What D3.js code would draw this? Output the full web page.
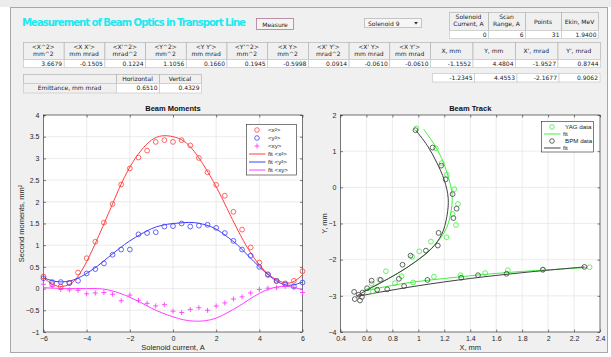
<!DOCTYPE html>
<html>
<head>
<meta charset="utf-8">
<script src="https://cdn.jsdelivr.net/npm/d3@7"></script>
<style>
  body { margin: 0; background: #fff; }
  svg { display: block; font-family: "Liberation Sans", Arial, sans-serif; }
  .ui { font-family: "DejaVu Sans", sans-serif; font-size: 6px; fill: #222; }
</style>
</head>
<body>
<svg width="611" height="357"></svg>
<script>
// ---- table data ----
const momentHeaders = [
  ["<X^2>", "mm^2"], ["<X X'>", "mm mrad"], ["<X'^2>", "mrad^2"], ["<Y^2>", "mm^2"],
  ["<Y Y'>", "mm mrad"], ["<Y'^2>", "mm^2"], ["<X Y>", "mm^2"], ["<X' Y'>", "mrad^2"],
  ["<X' Y>", "mm mrad"], ["<X Y'>", "mm mrad"], ["X, mm"], ["Y, mm"], ["X', mrad"], ["Y', mrad"]
];
const momentValues = ["3.6679", "-0.1505", "0.1224", "1.1056", "0.1660", "0.1945", "-0.5998",
  "0.0914", "-0.0610", "-0.0610", "-1.1552", "4.4804", "-1.9527", "0.8744"];
const fitCentroid = ["-1.2345", "4.4553", "-2.1677", "0.9062"];
const emitHeaders = ["", "Horizontal", "Vertical"];
const emitValues = ["Emittance, mm mrad", "0.6510", "0.4329"];
const scanHeaders = [["Solenoid", "Current, A"], ["Scan", "Range, A"], ["Points"], ["Ekin, MeV"]];
const scanValues = ["0", "6", "31", "1.9400"];

// ---- beam moments ----
const current = [-6, -5.6, -5.2, -4.8, -4.4, -4, -3.6, -3.2, -2.8, -2.4, -2, -1.6, -1.2, -0.8, -0.4, 0,
  0.4, 0.8, 1.2, 1.6, 2, 2.4, 2.8, 3.2, 3.6, 4, 4.4, 4.8, 5.2, 5.6, 6];
const x2 = [0.28, 0.1, 0.05, 0.13, 0.37, 0.7, 1.08, 1.52, 1.95, 2.4, 2.77, 3.02, 3.18, 3.38, 3.42, 3.38,
  3.42, 3.3, 3.01, 2.68, 2.39, 2.14, 1.77, 1.36, 0.95, 0.6, 0.31, 0.17, 0.12, 0.18, 0.4];
const y2 = [0.24, 0.15, 0.15, 0.13, 0.18, 0.35, 0.45, 0.58, 0.78, 0.9, 0.9, 1.25, 1.28, 1.3, 1.43, 1.44,
  1.5, 1.43, 1.45, 1.47, 1.4, 1.28, 1.1, 0.9, 0.76, 0.5, 0.33, 0.18, 0.1, 0.05, 0.14];
const xy = [0.1, 0.05, -0.02, -0.03, -0.04, -0.12, -0.1, -0.09, -0.13, -0.28, -0.15, -0.27, -0.34, -0.4, -0.37, -0.52,
  -0.55, -0.48, -0.44, -0.5, -0.4, -0.33, -0.24, -0.19, -0.1, -0.02, 0.01, 0.02, 0.05, 0.02, -0.09];

const fitCurrent = [-6, -5.5, -5, -4.5, -4, -3.5, -3, -2.5, -2, -1.5, -1, -0.5, 0, 0.5, 1, 1.5, 2, 2.5, 3, 3.5, 4, 4.5, 5, 5.5, 6];
const fitX2 = [0.25, 0.08, 0.06, 0.22, 0.62, 1.15, 1.72, 2.3, 2.8, 3.17, 3.42, 3.52, 3.5, 3.4, 3.15, 2.78, 2.35, 1.85, 1.35, 0.9, 0.55, 0.3, 0.16, 0.14, 0.32];
const fitY2 = [0.25, 0.17, 0.16, 0.22, 0.35, 0.52, 0.72, 0.92, 1.1, 1.25, 1.38, 1.46, 1.5, 1.52, 1.52, 1.47, 1.37, 1.2, 1.0, 0.75, 0.5, 0.28, 0.12, 0.08, 0.15];
const fitXY = [0.02, 0.01, 0.0, 0.0, 0.0, 0.0, -0.03, -0.1, -0.2, -0.32, -0.45, -0.56, -0.65, -0.72, -0.75, -0.74, -0.68, -0.56, -0.42, -0.26, -0.11, 0.0, 0.05, 0.04, -0.03];

// ---- beam track ----
const yagX = [0.986, 1.135, 1.18, 1.22, 1.277, 1.305, 1.264, 1.29, 1.217, 1.097, 1.007, 0.953, 0.87, 0.75, 0.70, 0.64, 0.65, 0.82, 0.96, 1.12, 1.325, 1.515, 1.69, 1.96, 2.32];
const yagY = [1.63, 1.08, 0.67, 0.35, -0.05, -0.46, -0.74, -1.04, -1.38, -1.5, -1.77, -1.92, -2.46, -2.32, -2.55, -2.66, -2.88, -2.65, -2.63, -2.47, -2.43, -2.37, -2.29, -2.27, -2.21];
const bpmX = [0.978, 1.11, 1.176, 1.21, 1.264, 1.295, 1.27, 1.156, 1.15, 1.058, 0.94, 0.878, 0.85, 0.71, 0.64, 0.683, 0.76, 0.605, 0.57, 0.565, 0.54, 0.55, 0.505, 0.51, 0.89, 1.07, 1.33, 1.46, 1.68, 1.96, 2.28];
const bpmY = [1.58, 1.10, 0.60, 0.22, -0.19, -0.59, -0.85, -1.26, -1.61, -1.75, -1.89, -2.14, -2.53, -2.56, -2.58, -2.83, -2.82, -2.79, -2.91, -3.03, -2.97, -3.13, -2.89, -3.09, -2.73, -2.56, -2.50, -2.43, -2.39, -2.28, -2.20];
const yagFitX = [1.04, 1.12, 1.18, 1.23, 1.26, 1.255, 1.22, 1.15, 1.05, 0.92, 0.78, 0.66, 0.6, 0.58, 0.7, 0.9, 1.2, 1.6, 2.0, 2.3];
const yagFitY = [1.61, 1.2, 0.8, 0.3, -0.2, -0.6, -1.1, -1.5, -1.85, -2.2, -2.5, -2.72, -2.82, -2.86, -2.78, -2.65, -2.52, -2.38, -2.28, -2.22];
const bpmFitX = [0.98, 1.07, 1.14, 1.2, 1.23, 1.22, 1.18, 1.1, 0.98, 0.84, 0.7, 0.6, 0.55, 0.53, 0.7, 1.0, 1.4, 1.8, 2.28];
const bpmFitY = [1.58, 1.15, 0.7, 0.2, -0.3, -0.8, -1.3, -1.7, -2.05, -2.38, -2.66, -2.85, -2.95, -3.0, -2.9, -2.72, -2.52, -2.36, -2.2];

const RED = '#ff4040', BLUE = '#4040ff', MAG = '#ff40ff', GREEN = '#40f040', DARK = '#404040';

const svg = d3.select('svg');

// window + panel
svg.append('rect').attr('width', 611).attr('height', 7).attr('fill', '#ececec');
svg.append('rect').attr('x', 10.5).attr('y', 7.5).attr('width', 597).attr('height', 345)
  .attr('fill', '#f0f0f0').attr('stroke', '#a8a8a8');

svg.append('text').attr('x', 22).attr('y', 26)
  .attr('fill', '#20e8f0').attr('font-weight', 'bold').attr('font-size', 10.2)
  .attr('font-family', 'DejaVu Sans, sans-serif').attr('textLength', 224)
  .text('Measurement of Beam Optics in Transport Line');

// Measure button
svg.append('rect').attr('x', 256.5).attr('y', 18.5).attr('width', 37).attr('height', 11)
  .attr('fill', '#f4f4f4').attr('stroke', '#b07898').attr('stroke-width', 0.8);
svg.append('text').attr('class', 'ui').attr('x', 275).attr('y', 26.5).attr('text-anchor', 'middle')
  .attr('font-size', 7).text('Measure');

// dropdown
svg.append('rect').attr('x', 364.5).attr('y', 18.5).attr('width', 57).attr('height', 9)
  .attr('fill', '#f6f6f6').attr('stroke', '#c4c4c4');
svg.append('text').attr('class', 'ui').attr('x', 368).attr('y', 25.5).text('Solenoid 9');
svg.append('path').attr('d', 'M414,22 h4 l-2,2.5z').attr('fill', '#333');

function table(x0, y0, edges, headH, rows, rowH, headers, rowHeadFirst) {
  const g = svg.append('g');
  const x = i => x0 + edges[i];
  if (headers) {
    headers.forEach((h, i) => {
      g.append('rect').attr('x', x(i) + 0.5).attr('y', y0 + 0.5)
        .attr('width', edges[i + 1] - edges[i]).attr('height', headH)
        .attr('fill', '#f0f0f0').attr('stroke', '#b4b4b4').attr('stroke-width', 0.7);
      const lines = Array.isArray(h) ? h : [h];
      lines.forEach((t, k) => {
        g.append('text').attr('class', 'ui').attr('text-anchor', 'middle')
          .attr('x', (x(i) + x(i + 1)) / 2)
          .attr('y', y0 + (lines.length === 1 ? headH / 2 + 2.5 : 6.5 + k * 7.5))
          .text(t);
      });
    });
  }
  const top = y0 + (headers ? headH : 0);
  rows.forEach((v, i) => {
    const grey = rowHeadFirst && i === 0;
    g.append('rect').attr('x', x(i) + 0.5).attr('y', top + 0.5)
      .attr('width', edges[i + 1] - edges[i]).attr('height', rowH)
      .attr('fill', grey ? '#f0f0f0' : '#fff').attr('stroke', '#c8c8c8').attr('stroke-width', 0.7);
    g.append('text').attr('class', 'ui')
      .attr('text-anchor', grey ? 'middle' : 'end')
      .attr('x', grey ? (x(i) + x(i + 1)) / 2 : x(i + 1) - 1.5)
      .attr('y', top + rowH / 2 + 2.6).text(v);
  });
}

const colW = 40.7;
const mainEdges = d3.range(11).map(i => i * colW).concat([407 + 42.5, 407 + 85, 407 + 127.5, 407 + 170]);
table(23, 42, mainEdges, 17, momentValues, 8, momentHeaders, false);
table(23 + 407 + 2, 73, [0, 42, 84.5, 126.5, 167.5], 0, fitCentroid, 8.5, null, false);
table(23, 74, [0, 93, 136, 178], 9, emitValues, 9.5, emitHeaders, true);
table(449, 12, [0, 39, 76, 112, 149], 18, scanValues, 8, scanHeaders, false);

// ---- plotting helpers ----
function axesFrame(x, y, xt, yt, xfmt, title, xlab, ylab, ylabX) {
  const [x0, x1] = x.range(), [y0, y1] = y.range();
  const g = svg.append('g');
  g.append('rect').attr('x', x0).attr('y', y1).attr('width', x1 - x0).attr('height', y0 - y1).attr('fill', '#fff');
  g.selectAll('.gx').data(xt).join('line')
    .attr('x1', d => x(d)).attr('x2', d => x(d)).attr('y1', y1).attr('y2', y0)
    .attr('stroke', '#e4e4e4').attr('stroke-width', 0.7);
  g.selectAll('.gy').data(yt).join('line')
    .attr('y1', d => y(d)).attr('y2', d => y(d)).attr('x1', x0).attr('x2', x1)
    .attr('stroke', '#e4e4e4').attr('stroke-width', 0.7);

  const style = a => {
    a.select('.domain').remove();
    a.selectAll('line').attr('stroke', '#262626').attr('stroke-width', 0.6);
    a.selectAll('text').attr('fill', '#262626').attr('font-size', 7);
    a.attr('font-family', null);
  };
  g.append('g').attr('transform', `translate(0,${y0})`)
    .call(d3.axisBottom(x).tickValues(xt).tickFormat(xfmt).tickSize(-2.5).tickPadding(4)).call(style);
  g.append('g').attr('transform', `translate(0,${y1})`)
    .call(d3.axisTop(x).tickValues(xt).tickFormat('').tickSize(-2.5)).call(style);
  g.append('g').attr('transform', `translate(${x0},0)`)
    .call(d3.axisLeft(y).tickValues(yt).tickFormat(d3.format('')).tickSize(-2.5).tickPadding(4)).call(style);
  g.append('g').attr('transform', `translate(${x1},0)`)
    .call(d3.axisRight(y).tickValues(yt).tickFormat('').tickSize(-2.5)).call(style);
  g.append('rect').attr('x', x0).attr('y', y1).attr('width', x1 - x0).attr('height', y0 - y1)
    .attr('fill', 'none').attr('stroke', '#262626').attr('stroke-width', 0.6);

  svg.append('text').attr('x', (x0 + x1) / 2).attr('y', y1 - 4).attr('text-anchor', 'middle')
    .attr('font-weight', 'bold').attr('font-size', 7.5).attr('fill', '#111').text(title);
  svg.append('text').attr('x', (x0 + x1) / 2).attr('y', 350).attr('text-anchor', 'middle')
    .attr('font-size', 7.5).attr('fill', '#262626').text(xlab);
  svg.append('text').attr('transform', `translate(${ylabX},${(y0 + y1) / 2}) rotate(-90)`)
    .attr('text-anchor', 'middle').attr('font-size', 7.5).attr('fill', '#262626').text(ylab);
  return g;
}

function circles(g, xs, ys, x, y, color) {
  g.append('g').selectAll('circle').data(xs.map((v, i) => [v, ys[i]])).join('circle')
    .attr('cx', d => x(d[0])).attr('cy', d => y(d[1])).attr('r', 2.4)
    .attr('fill', 'none').attr('stroke', color).attr('stroke-width', 0.8);
}

function fitLine(g, xs, ys, x, y, color, curve) {
  g.append('path').datum(xs.map((v, i) => [v, ys[i]]))
    .attr('d', d3.line().x(d => x(d[0])).y(d => y(d[1])).curve(curve))
    .attr('fill', 'none').attr('stroke', color).attr('stroke-width', 1);
}

// ---- Beam Moments ----
const xL = d3.scaleLinear([-6, 6], [43.5, 302.5]);
const yL = d3.scaleLinear([-1, 4], [332, 115]);
const gL = axesFrame(xL, yL, d3.range(-6, 7, 2), d3.range(-1, 4.01, 0.5), d3.format(''),
  'Beam Moments', 'Solenoid current, A', 'Second moments, mm²', 24);

fitLine(gL, fitCurrent, fitX2, xL, yL, RED, d3.curveNatural);
fitLine(gL, fitCurrent, fitY2, xL, yL, BLUE, d3.curveNatural);
fitLine(gL, fitCurrent, fitXY, xL, yL, MAG, d3.curveNatural);
circles(gL, current, x2, xL, yL, RED);
circles(gL, current, y2, xL, yL, BLUE);
gL.append('g').selectAll('path').data(current.map((v, i) => [v, xy[i]])).join('path')
  .attr('d', d => `M${xL(d[0]) - 2.5},${yL(d[1])}h5M${xL(d[0])},${yL(d[1]) - 2.5}v5`)
  .attr('stroke', MAG).attr('stroke-width', 0.9);

// legend
const legL = [
  { t: '<x²>', c: RED, m: 'o' }, { t: '<y²>', c: BLUE, m: 'o' }, { t: '<xy>', c: MAG, m: '+' },
  { t: 'fit <x²>', c: RED, m: '-' }, { t: 'fit <y²>', c: BLUE, m: '-' }, { t: 'fit <xy>', c: MAG, m: '-' }
];
function legend(x0, y0, w, h, items, dy, tx) {
  const g = svg.append('g');
  g.append('rect').attr('x', x0).attr('y', y0).attr('width', w).attr('height', h)
    .attr('fill', '#fff').attr('stroke', '#262626').attr('stroke-width', 0.6);
  items.forEach((it, i) => {
    const cy = y0 + 5.5 + i * dy;
    if (it.m === 'o') g.append('circle').attr('cx', x0 + 10.5).attr('cy', cy).attr('r', 2.3)
      .attr('fill', 'none').attr('stroke', it.c).attr('stroke-width', 0.8);
    else if (it.m === '+') g.append('path').attr('d', `M${x0 + 8},${cy}h5M${x0 + 10.5},${cy - 2.5}v5`)
      .attr('stroke', it.c).attr('stroke-width', 0.9);
    else g.append('line').attr('x1', x0 + 2.5).attr('x2', x0 + 19).attr('y1', cy).attr('y2', cy)
      .attr('stroke', it.c).attr('stroke-width', 1);
    g.append('text').attr('x', x0 + (it.m === '-' ? 21.5 : tx)).attr('y', cy + 2.2)
      .attr('font-size', 6.2).attr('fill', '#222').text(it.t);
  });
}
legend(246.5, 124.5, 50, 50.5, legL, 8, 21.5);

// ---- Beam Track ----
const xR = d3.scaleLinear([0.4, 2.4], [340.5, 600]);
const yR = d3.scaleLinear([-4, 2], [332, 115]);
const gR = axesFrame(xR, yR, d3.range(0.4, 2.41, 0.2).map(v => +v.toFixed(1)), d3.range(-4, 2.01, 1), d3.format(''),
  'Beam Track', 'X, mm', 'Y, mm', 327);

fitLine(gR, yagFitX, yagFitY, xR, yR, GREEN, d3.curveCatmullRom);
fitLine(gR, bpmFitX, bpmFitY, xR, yR, DARK, d3.curveCatmullRom);
circles(gR, yagX, yagY, xR, yR, GREEN);
circles(gR, bpmX, bpmY, xR, yR, DARK);

legend(541.5, 121.5, 52, 30.5, [
  { t: 'YAG data', c: GREEN, m: 'o' }, { t: 'fit', c: GREEN, m: '-' },
  { t: 'BPM data', c: DARK, m: 'o' }, { t: 'fit', c: DARK, m: '-' }
], 7, 23.5);
</script>
</body>
</html>
